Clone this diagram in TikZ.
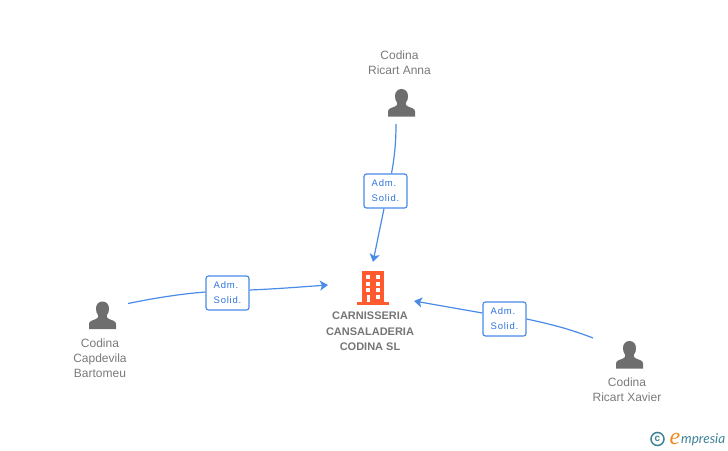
\documentclass[tikz,border=0pt]{standalone}
\usepackage{fontspec}
\setmainfont{Liberation Sans}
\newfontfamily\logofont{Lato}
\newfontfamily\logoe{Liberation Serif}
\newfontfamily\adm[LetterSpace=8]{Liberation Sans}
\usetikzlibrary{arrows.meta,shadows}
\definecolor{linkblue}{HTML}{4A8BE8}
\definecolor{labelblue}{HTML}{2F74DC}
\definecolor{persongray}{HTML}{6E6E6E}
\definecolor{namegray}{HTML}{7A7A7A}
\definecolor{bizgray}{HTML}{757575}
\definecolor{bizorange}{HTML}{FF5A30}
\definecolor{logoteal}{HTML}{3E8296}
\definecolor{logoorange}{HTML}{F08A1E}
\tikzset{
  x=1pt,y=-1pt,
  personicon/.pic={
    \fill[persongray] (-13.5,0) -- (-13.5,-5) .. controls (-13.5,-8) and (-10,-8.5) .. (-6.5,-10)
      .. controls (-4.5,-11) and (-4,-12) .. (-4.3,-13.5)
      .. controls (-6,-15.5) and (-6.5,-18) .. (-6.5,-20.5)
      .. controls (-6.5,-25) and (-3.5,-27.5) .. (0,-27.5)
      .. controls (3.5,-27.5) and (6.5,-25) .. (6.5,-20.5)
      .. controls (6.5,-18) and (6,-15.5) .. (4.3,-13.5)
      .. controls (4,-12) and (4.5,-11) .. (6.5,-10)
      .. controls (10,-8.5) and (13.5,-8) .. (13.5,-5) -- (13.5,0) -- cycle;
  },
  personname/.style={align=center,text=namegray,font=\fontsize{12}{15}\selectfont,inner sep=0pt},
  bizname/.style={align=center,text=bizgray,font=\fontsize{11}{15.5}\selectfont\bfseries,inner sep=0pt},
  relbox/.style={draw=linkblue,line width=1.2pt,rounded corners=2.5pt,fill=white,text=labelblue,
    minimum width=43pt,minimum height=34pt,inner sep=0pt,align=left,
    font=\fontsize{9.5}{15}\selectfont\adm},
  link/.style={draw=linkblue,line width=1.2pt},
  tip/.style={-{Stealth[length=8pt,width=10pt,inset=2pt]}},
}
\begin{document}
\begin{tikzpicture}
\useasboundingbox (0,0) rectangle (728,450);
% person icons
\pic at (401.5,116.5) {personicon};
\pic at (102.5,329) {personicon};
\pic at (629.5,368.5) {personicon};
% company icon
\fill[bizorange] (362.3,271) rectangle (384.3,303);
\fill[bizorange] (357.3,302) rectangle (389,304.5);
\foreach \yy in {275,281.7,288.3}{
  \fill[white] (365.7,\yy) rectangle (370,\yy+4);
  \fill[white] (375.7,\yy) rectangle (380,\yy+4);
}
\fill[white] (366.5,295) rectangle (370,302);
\fill[white] (375.7,295) rectangle (380,299);
% labels
\node[personname] (anna) at (399.5,62.5) {Codina\\Ricart Anna};
\node[personname] (bartomeu) at (100,358) {Codina\\Capdevila\\Bartomeu};
\node[personname] (xavier) at (627,389.5) {Codina\\Ricart Xavier};
\node[bizname] (biz) at (370,331.5) {CARNISSERIA\\CANSALADERIA\\CODINA SL};
% relation boxes
\node[relbox] (boxa) at (385.5,191) {Adm.\\Solid.};
\node[relbox] (boxb) at (227.5,293) {Adm.\\Solid.};
\node[relbox] (boxc) at (504.5,319) {Adm.\\Solid.};
% connector ends
\coordinate (sa) at (396,124);
\coordinate (ea) at (373,262);
\coordinate (sb) at (128,303.5);
\coordinate (eb) at (328,285);
\coordinate (sc) at (593,338);
\coordinate (ec) at (414,301);
% connectors
\draw[link] (sa) .. controls (396,145) and (394,160) .. (boxa.north -| 391.5,0);
\draw[link,tip] (boxa.south -| 384,0) -- (ea);
\draw[link] (sb) .. controls (155,298) and (180,294) .. (boxb.west |- 0,292);
\draw[link,tip] (boxb.east |- 0,290) .. controls (275,289) and (300,287) .. (eb);
\draw[link] (sc) .. controls (570,329) and (550,324) .. (boxc.east |- 0,319);
\draw[link,tip] (boxc.west |- 0,313) -- (ec);
% logo
\node[circle,draw=logoteal,line width=1.5pt,minimum size=13pt,inner sep=0pt,text=logoteal,
  font=\fontsize{10}{10}\selectfont\bfseries] (copy) at (657.5,439) {c};
\node[inner sep=0pt,anchor=base west,text=logoorange,font=\fontsize{24}{24}\selectfont\logoe\itshape] (loge) at (669.5,444.5) {e};
\node[inner sep=0pt,anchor=base west,text=logoteal,font=\fontsize{13.5}{14}\selectfont\logofont\itshape] (logot) at (681,443.5) {mpresia};
\end{tikzpicture}
\end{document}
